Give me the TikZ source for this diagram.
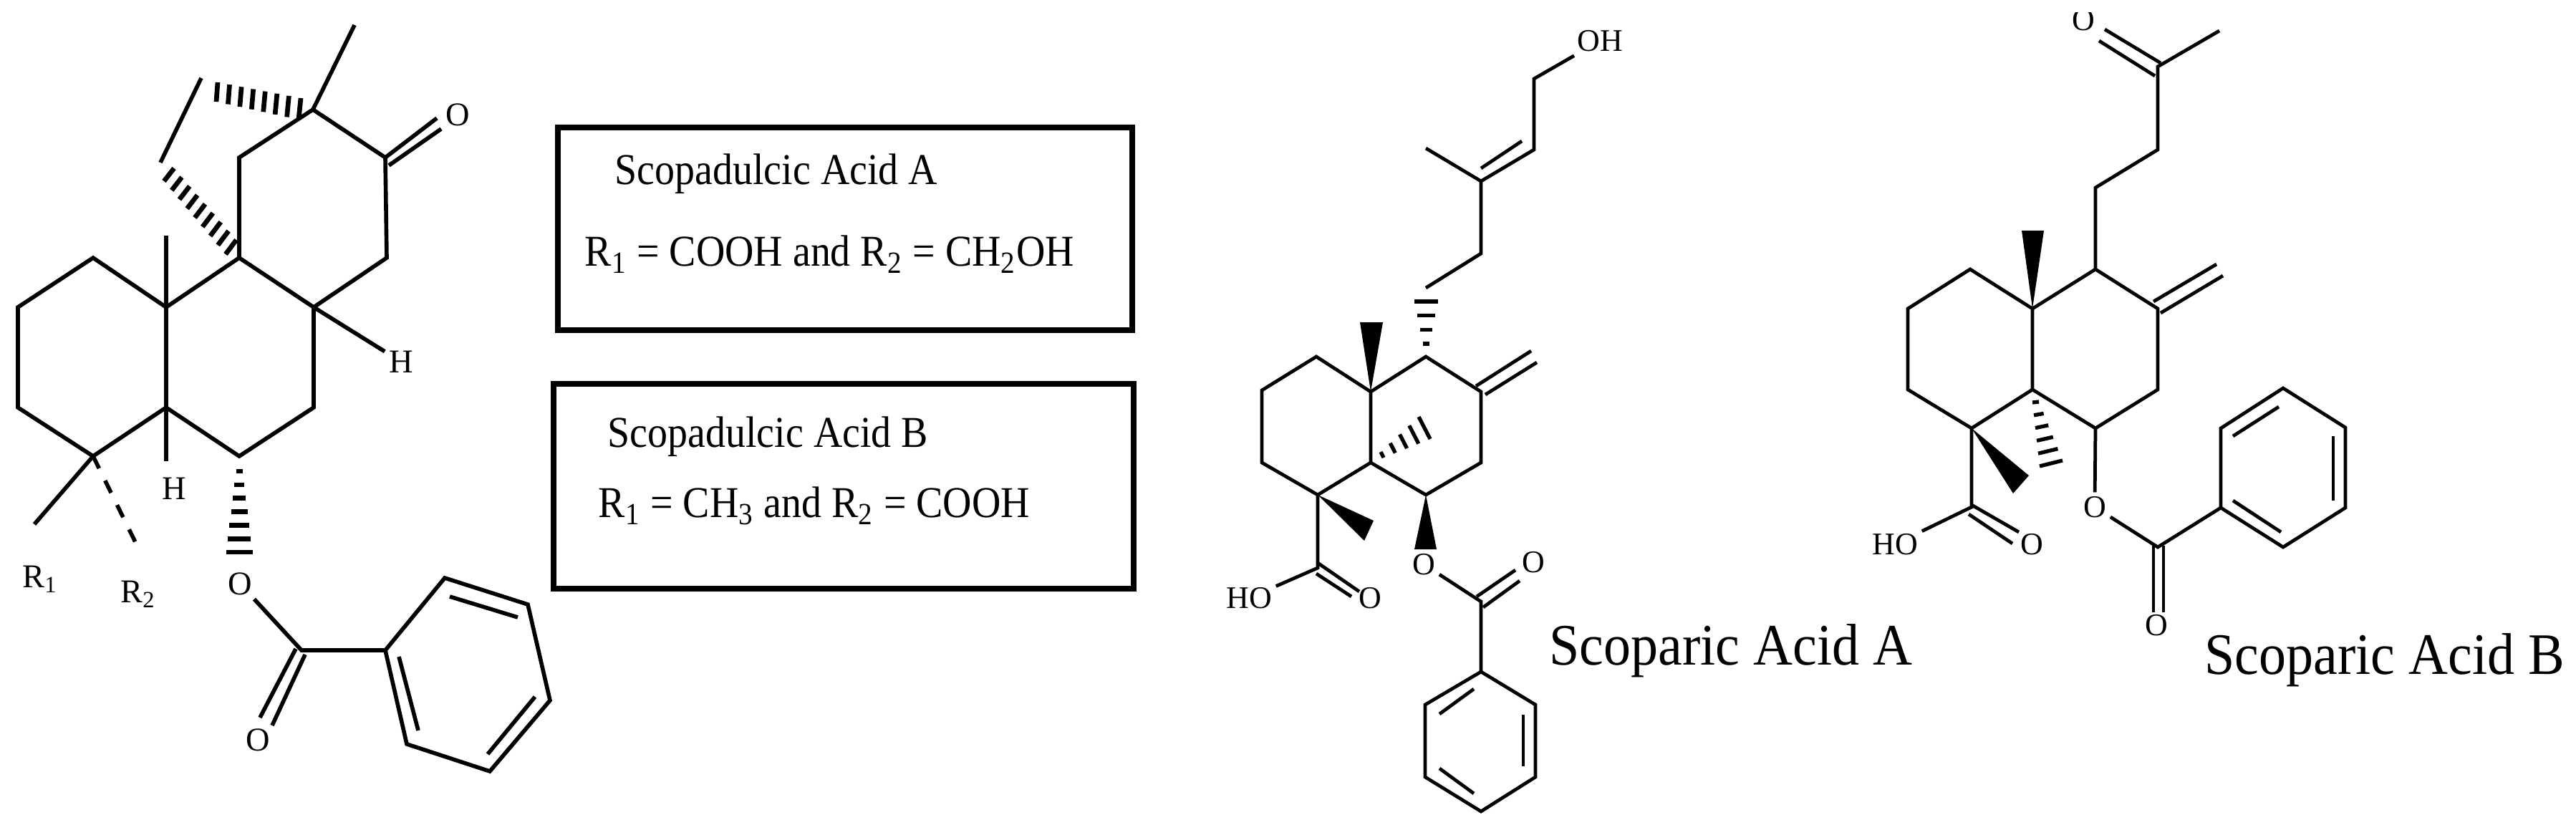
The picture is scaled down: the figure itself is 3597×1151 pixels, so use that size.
\documentclass[tikz,border=0pt]{standalone}
\usepackage{fontspec}
\setmainfont{Liberation Serif}
\usetikzlibrary{calc}
\newcommand{\hashbond}[6][rung]{%
  \foreach \hidx in {0,...,#6} {
    \pgfmathsetmacro{\hfrac}{\hidx/#6}
    \draw[#1] ($(#2)!\hfrac!(#4)$) -- ($(#3)!\hfrac!(#5)$);
  }}
\tikzset{
  bond/.style={line width=1.35pt,line join=miter},
  lbond/.style={line width=1.6pt,line join=miter},
  rung/.style={line width=1.9pt},
  thinrung/.style={line width=1.5pt},
  frame/.style={line width=2.4pt},
  atom/.style={inner sep=1.5pt,font=\fontsize{12.5}{14}\selectfont},
  latom/.style={inner sep=1.5pt,font=\fontsize{13.2}{15}\selectfont},
  entry/.style={inner sep=0pt,anchor=base west,yscale=1.1,transform shape,font=\fontsize{15.9}{18}\selectfont},
  caption/.style={inner sep=0pt,anchor=base west,yscale=1.08,transform shape,font=\fontsize{21.6}{24}\selectfont}}
\begin{document}
\begin{tikzpicture}[x=0.01cm,y=-0.01cm]
  \useasboundingbox (0,0) rectangle (3597,1151);

  % left molecule
  \coordinate (la1) at (25,429);
  \coordinate (la2) at (130,360);
  \coordinate (la3) at (232,429);
  \coordinate (la4) at (232,569);
  \coordinate (la5) at (130,637);
  \coordinate (la6) at (25,569);
  \coordinate (lb1) at (334,360);
  \coordinate (lb2) at (438,429);
  \coordinate (lb3) at (438,569);
  \coordinate (lb4) at (334,637);
  \coordinate (lc1) at (334,220);
  \coordinate (lc2) at (437,153);
  \coordinate (lc3) at (538,220);
  \coordinate (lc4) at (540,360);
  \coordinate (lme1) at (232,329);
  \coordinate (lme2) at (495,35);
  \coordinate (lbr1) at (281,109);
  \coordinate (lbr2) at (224,227);
  \coordinate (lhy) at (232,644);
  \coordinate (lr1) at (48,732);
  \coordinate (lr2) at (189,757);
  \coordinate (lke1) at (610,165);
  \coordinate (lke2) at (543,231);
  \coordinate (lke3) at (616,180);
  \coordinate (lco1) at (413,906);
  \coordinate (lco2) at (363,1002);
  \coordinate (lco3) at (426,914);
  \coordinate (lco4) at (380,1013);
  \coordinate (lest) at (421,908);
  \coordinate (lp1) at (538,908);
  \coordinate (lp2) at (621,807);
  \coordinate (lp3) at (737,844);
  \coordinate (lp4) at (768,978);
  \coordinate (lp5) at (684,1077);
  \coordinate (lp6) at (568,1039);
  \coordinate (lin1) at (628,833);
  \coordinate (lin2) at (723,862);
  \coordinate (lin3) at (557,917);
  \coordinate (lin4) at (584,1020);
  \coordinate (lin5) at (747,973);
  \coordinate (lin6) at (681,1053);

  \node (lket) at (639,160) [latom] {O};
  \node (lhb) at (560,505) [latom] {H};
  \node (lha) at (243,682) [latom] {H};
  \node (lro) at (56,809) [latom] {R\textsubscript{1}};
  \node (lrt) at (193,830) [latom] {R\textsubscript{2}};
  \node (loa) at (335,815) [latom] {O};
  \node (lob) at (360,1033) [latom] {O};

  \draw[lbond] (la1) -- (la2) -- (la3) -- (la4) -- (la5) -- (la6) -- cycle;
  \draw[lbond] (la3) -- (lb1) -- (lb2) -- (lb3) -- (lb4) -- (la4);
  \draw[lbond] (lb1) -- (lc1) -- (lc2) -- (lc3) -- (lc4) -- (lb2);
  \draw[lbond] (la3) -- (lme1);
  \draw[lbond] (lc2) -- (lme2);
  \draw[lbond] (lbr1) -- (lbr2);
  \draw[lbond] (la4) -- (lhy);
  \draw[lbond] (la5) -- (lr1);
  \draw[lbond] (lb2) -- (lhb);
  \draw[lbond,dash pattern=on 5.4pt off 5.4pt] (la5) -- (lr2);
  \draw[lbond] (lc3) -- (lke1);
  \draw[lbond] (lke2) -- (lke3);
  \draw[lbond] (loa) -- (lest) -- (lp1);
  \draw[lbond] (lco1) -- (lco2);
  \draw[lbond] (lco3) -- (lco4);
  \draw[lbond] (lp1) -- (lp2) -- (lp3) -- (lp4) -- (lp5) -- (lp6) -- cycle;
  \draw[lbond] (lin1) -- (lin2);
  \draw[lbond] (lin3) -- (lin4);
  \draw[lbond] (lin5) -- (lin6);
  \hashbond{304,115}{302,142}{420,137}{417,167}{7}
  \hashbond{243,235}{229,253}{330,335}{315,355}{8}
  \hashbond{329.5,658}{338.5,658}{315.5,771}{352.5,771}{6}

  % boxes
  \draw[frame] (779,178) rectangle (1581,461);
  \draw[frame] (773,536) rectangle (1583,822);
  \node (aname) at (858,257) [entry] {Scopadulcic Acid A};
  \node (adef) at (816,371) [entry] {R\textsubscript{1} = COOH and R\textsubscript{2} = CH\textsubscript{2}OH};
  \node (bname) at (848,624) [entry] {Scopadulcic Acid B};
  \node (bdef) at (835,722) [entry] {R\textsubscript{1} = CH\textsubscript{3} and R\textsubscript{2} = COOH};

  % middle molecule
  \coordinate (ma1) at (1762,545);
  \coordinate (ma2) at (1838,498);
  \coordinate (ma3) at (1914,547);
  \coordinate (ma4) at (1914,646);
  \coordinate (ma5) at (1840,691);
  \coordinate (ma6) at (1762,646);
  \coordinate (mb1) at (1991,498);
  \coordinate (mb2) at (2068,547);
  \coordinate (mb3) at (2068,646);
  \coordinate (mb4) at (1991,691);
  \coordinate (mwa1) at (1899,450);
  \coordinate (mwa2) at (1931,450);
  \coordinate (mwb1) at (1918,727);
  \coordinate (mwb2) at (1905,755);
  \coordinate (mwc1) at (1975,767);
  \coordinate (mwc2) at (2006,767);
  \coordinate (mex1) at (2061,539);
  \coordinate (mex2) at (2138,490);
  \coordinate (mex3) at (2074,551);
  \coordinate (mex4) at (2146,506);
  \coordinate (mch1) at (1991,402);
  \coordinate (mch2) at (2068,354);
  \coordinate (mch3) at (2068,253);
  \coordinate (mch4) at (2142,209);
  \coordinate (mch5) at (2142,110);
  \coordinate (mdb1) at (2068,235);
  \coordinate (mdb2) at (2125,197);
  \coordinate (mme) at (1991,207);
  \coordinate (mac) at (1840,793);
  \coordinate (mao1) at (1840,786);
  \coordinate (mao2) at (1898,826);
  \coordinate (mao3) at (1838,801);
  \coordinate (mao4) at (1887,833);
  \coordinate (mest) at (2068,840);
  \coordinate (meo1) at (2062,833);
  \coordinate (meo2) at (2116,796);
  \coordinate (meo3) at (2071,848);
  \coordinate (meo4) at (2122,811);
  \coordinate (mp1) at (2068,938);
  \coordinate (mp2) at (2144,984);
  \coordinate (mp3) at (2144,1085);
  \coordinate (mp4) at (2068,1133);
  \coordinate (mp5) at (1990,1085);
  \coordinate (mp6) at (1990,984);
  \coordinate (min1) at (2010,997);
  \coordinate (min2) at (2058,962);
  \coordinate (min3) at (2127,998);
  \coordinate (min4) at (2127,1070);
  \coordinate (min5) at (2010,1073);
  \coordinate (min6) at (2058,1108);

  \node (moh) at (2234,57) [atom] {OH};
  \node (mho) at (1744,835) [atom] {HO};
  \node (mok) at (1913,835) [atom] {O};
  \node (moa) at (1988,788) [atom] {O};
  \node (mob) at (2141,785) [atom] {O};

  \draw[bond] (ma1) -- (ma2) -- (ma3) -- (ma4) -- (ma5) -- (ma6) -- cycle;
  \draw[bond] (ma3) -- (mb1) -- (mb2) -- (mb3) -- (mb4) -- (ma4);
  \fill (ma3) -- (mwa1) -- (mwa2) -- cycle;
  \fill (ma5) -- (mwb1) -- (mwb2) -- cycle;
  \fill (mb4) -- (mwc1) -- (mwc2) -- cycle;
  \draw[bond] (mex1) -- (mex2);
  \draw[bond] (mex3) -- (mex4);
  \draw[bond] (mch1) -- (mch2) -- (mch3) -- (mch4) -- (mch5) -- (moh);
  \draw[bond] (mdb1) -- (mdb2);
  \draw[bond] (mch3) -- (mme);
  \draw[bond] (ma5) -- (mac) -- (mho);
  \draw[bond] (mao1) -- (mao2);
  \draw[bond] (mao3) -- (mao4);
  \draw[bond] (moa) -- (mest) -- (mp1);
  \draw[bond] (meo1) -- (meo2);
  \draw[bond] (meo3) -- (meo4);
  \draw[bond] (mp1) -- (mp2) -- (mp3) -- (mp4) -- (mp5) -- (mp6) -- cycle;
  \draw[bond] (min1) -- (min2);
  \draw[bond] (min3) -- (min4);
  \draw[bond] (min5) -- (min6);
  \hashbond[thinrung]{1986.5,480}{1995.5,480}{1975,421}{2008,421}{3}
  \hashbond[thinrung]{1928,631}{1932,639}{1981,582}{1997,613}{4}
  \node (acapt) at (2163,928) [caption] {Scoparic Acid A};

  % right molecule
  \coordinate (ra1) at (2664,431);
  \coordinate (ra2) at (2751,376);
  \coordinate (ra3) at (2838,431);
  \coordinate (ra4) at (2838,544);
  \coordinate (ra5) at (2753,598);
  \coordinate (ra6) at (2664,544);
  \coordinate (rb1) at (2926,376);
  \coordinate (rb2) at (3013,431);
  \coordinate (rb3) at (3013,544);
  \coordinate (rb4) at (2926,598);
  \coordinate (rwa1) at (2823,322);
  \coordinate (rwa2) at (2854,322);
  \coordinate (rwb1) at (2833,664);
  \coordinate (rwb2) at (2811,689);
  \coordinate (rex1) at (3007,421);
  \coordinate (rex2) at (3095,369);
  \coordinate (rex3) at (3017,437);
  \coordinate (rex4) at (3104,385);
  \coordinate (rch1) at (2926,262);
  \coordinate (rch2) at (3013,209);
  \coordinate (rch3) at (3013,93);
  \coordinate (rme) at (3099,43);
  \coordinate (rdo1) at (3017,88);
  \coordinate (rdo2) at (2939,41);
  \coordinate (rdo3) at (3009,106);
  \coordinate (rdo4) at (2931,57);
  \coordinate (rac) at (2753,708);
  \coordinate (rao1) at (2753,705);
  \coordinate (rao2) at (2819,743);
  \coordinate (rao3) at (2749,718);
  \coordinate (rao4) at (2810,759);
  \coordinate (rest) at (3013,764);
  \coordinate (reo1) at (3007,762);
  \coordinate (reo2) at (3007,855);
  \coordinate (reo3) at (3021,762);
  \coordinate (reo4) at (3021,855);
  \coordinate (rp1) at (3101,709);
  \coordinate (rp2) at (3101,598);
  \coordinate (rp3) at (3188,542);
  \coordinate (rp4) at (3275,597);
  \coordinate (rp5) at (3275,709);
  \coordinate (rp6) at (3188,764);
  \coordinate (rin1) at (3118,609);
  \coordinate (rin2) at (3182,568);
  \coordinate (rin3) at (3258,609);
  \coordinate (rin4) at (3258,699);
  \coordinate (rin5) at (3118,699);
  \coordinate (rin6) at (3185,743);

  \node (rtop) at (2909,28) [atom] {O};
  \fill[white] (2880,0) rectangle (2940,17);
  \node (rho) at (2646,760) [atom] {HO};
  \node (rok) at (2837,760) [atom] {O};
  \node (roa) at (2925,708) [atom] {O};
  \node (rob) at (3011,873) [atom] {O};

  \draw[bond] (ra1) -- (ra2) -- (ra3) -- (ra4) -- (ra5) -- (ra6) -- cycle;
  \draw[bond] (ra3) -- (rb1) -- (rb2) -- (rb3) -- (rb4) -- (ra4);
  \fill (ra3) -- (rwa1) -- (rwa2) -- cycle;
  \fill (ra5) -- (rwb1) -- (rwb2) -- cycle;
  \draw[bond] (rex1) -- (rex2);
  \draw[bond] (rex3) -- (rex4);
  \draw[bond] (rb1) -- (rch1) -- (rch2) -- (rch3) -- (rme);
  \draw[bond] (rdo1) -- (rdo2);
  \draw[bond] (rdo3) -- (rdo4);
  \draw[bond] (ra5) -- (rac) -- (rho);
  \draw[bond] (rao1) -- (rao2);
  \draw[bond] (rao3) -- (rao4);
  \draw[bond] (rb4) -- (roa) -- (rest) -- (rp1);
  \draw[bond] (reo1) -- (reo2);
  \draw[bond] (reo3) -- (reo4);
  \draw[bond] (rp1) -- (rp2) -- (rp3) -- (rp4) -- (rp5) -- (rp6) -- cycle;
  \draw[bond] (rin1) -- (rin2);
  \draw[bond] (rin3) -- (rin4);
  \draw[bond] (rin5) -- (rin6);
  \hashbond[thinrung]{2838,562}{2847,561}{2848,651}{2880,643}{5}
  \node (bcapt) at (3078,941) [caption] {Scoparic Acid B};
\end{tikzpicture}
\end{document}
